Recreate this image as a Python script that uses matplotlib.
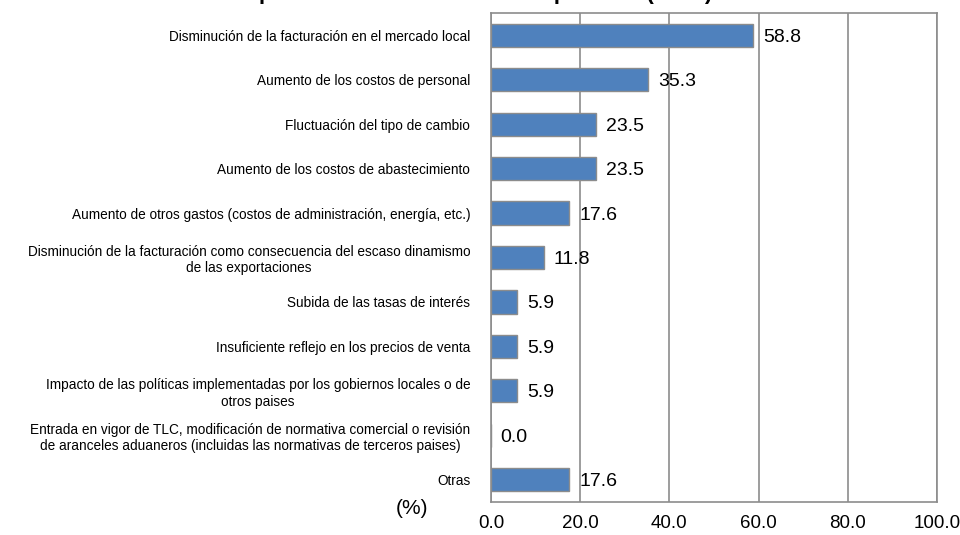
import matplotlib
matplotlib.use("Agg")
import matplotlib.pyplot as plt
from matplotlib import font_manager

categories = [
    "Disminución de la facturación en el mercado local",
    "Aumento de los costos de personal",
    "Fluctuación del tipo de cambio",
    "Aumento de los costos de abastecimiento",
    "Aumento de otros gastos (costos de administración, energía, etc.)",
    "Disminución de la facturación como consecuencia del escaso dinamismo\nde las exportaciones",
    "Subida de las tasas de interés",
    "Insuficiente reflejo en los precios de venta",
    "Impacto de las políticas implementadas por los gobiernos locales o de\notros paises",
    "Entrada en vigor de TLC, modificación de normativa comercial o revisión\nde aranceles aduaneros (incluidas las normativas de terceros paises)",
    "Otras",
]
values = [58.8, 35.3, 23.5, 23.5, 17.6, 11.8, 5.9, 5.9, 5.9, 0.0, 17.6]
xticks = [0, 20, 40, 60, 80, 100]
title = "Factores de empeoramiento del beneficio operativo (n=17)"

# narrow font if available
names = {f.name for f in font_manager.fontManager.ttflist}
narrow = "Liberation Sans Narrow" if "Liberation Sans Narrow" in names else "Liberation Sans"
plt.rcParams["font.family"] = [narrow, "DejaVu Sans"]
num_font = ["Liberation Sans", "DejaVu Sans"]

W, H = 960, 535
fig = plt.figure(figsize=(W / 100, H / 100), dpi=100)
ax = fig.add_axes([491 / W, 1 - 502 / H, (937 - 491) / W, (502 - 13) / H])

y = list(range(len(values)))
ax.barh(y, values, height=0.52, color="#4F81BD", edgecolor="#8C8C8C", linewidth=1.0, zorder=3)
ax.set_ylim(len(values) - 0.5, -0.5)
ax.set_xlim(0, 100)

ax.set_xticks(xticks)
ax.set_xticklabels([f"{v:.1f}" for v in xticks], fontsize=13.5, family=num_font)
ax.set_yticks(y)
ax.set_yticklabels(categories, fontsize=9.8, multialignment="center")
ax.tick_params(axis="both", length=0)
ax.tick_params(axis="y", pad=15)
ax.tick_params(axis="x", pad=9)

ax.grid(axis="x", color="#8C8C8C", linewidth=1.2, zorder=1)
for s in ax.spines.values():
    s.set_color("#8C8C8C")
    s.set_linewidth(1.2)

for yi, v in zip(y, values):
    ax.annotate(f"{v:.1f}", xy=(v, yi), xytext=(7, 0), textcoords="offset points",
                ha="left", va="center_baseline", fontsize=14, family=num_font, zorder=4)

fig.text(412 / W, 1 - 508 / H, "(%)", ha="center", va="center", fontsize=15, family=num_font)
# title is clipped at the top edge in the original
fig.text(712 / W, 1 + 1 / H, title, ha="right", va="baseline", fontsize=16,
         fontweight="bold", family=num_font)

fig.savefig("out.png", dpi=100)
